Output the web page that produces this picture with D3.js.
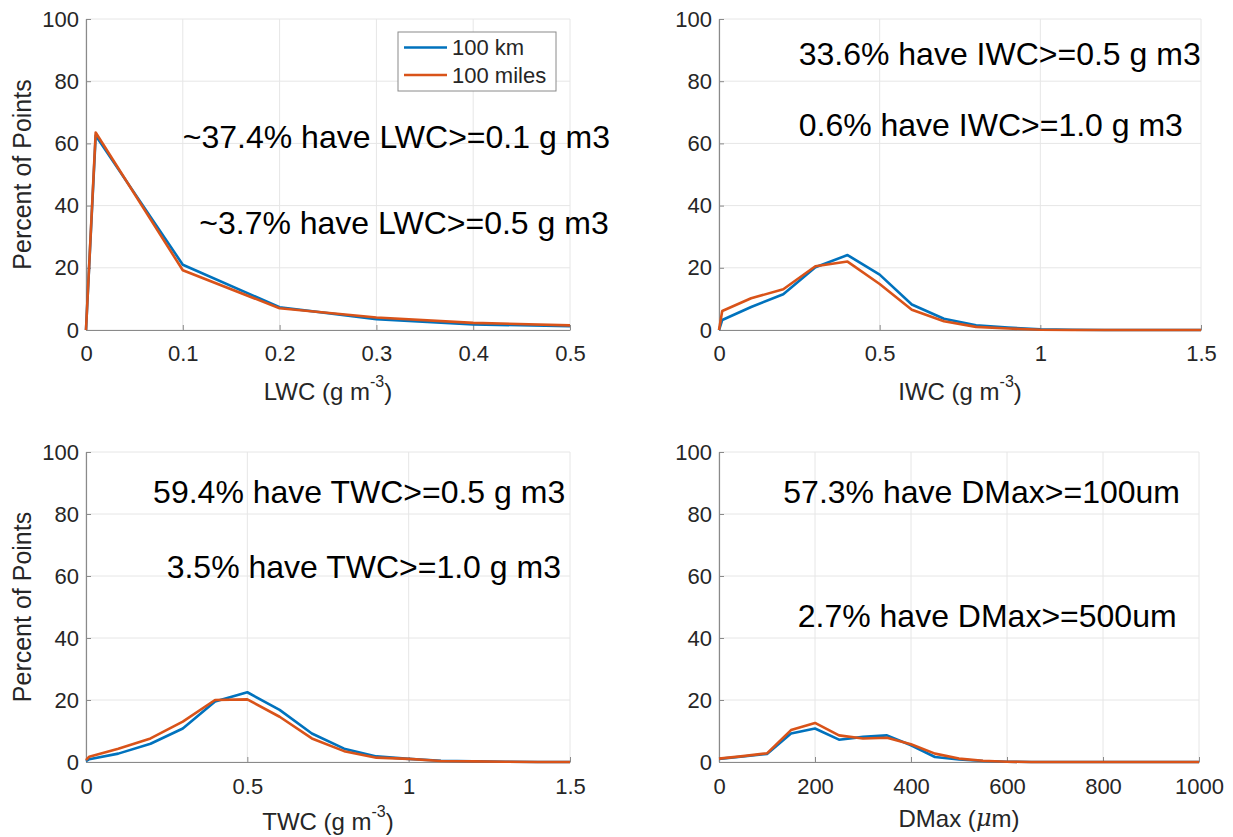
<!DOCTYPE html>
<html>
<head>
<meta charset="utf-8">
<script src="https://cdn.jsdelivr.net/npm/d3@7"></script>
<style>
  body { margin: 0; background: #fff; }
  svg { display: block; font-family: "Liberation Sans", Arial, Helvetica, sans-serif; }
</style>
</head>
<body>
<svg width="1233" height="837"></svg>
<script>
// ---- data ----
var seriesNames = ['100 km', '100 miles'];

var lwcX     = [0, 0.01, 0.1, 0.2, 0.3, 0.4, 0.5];
var lwcKm    = [0, 62.5, 21.0, 7.3, 3.5, 1.8, 1.2];
var lwcMiles = [0, 63.5, 19.2, 7.0, 4.0, 2.3, 1.5];

var iwcX     = [0, 0.01, 0.1, 0.2, 0.3, 0.4, 0.5, 0.6, 0.7, 0.8, 0.9, 1.0, 1.1, 1.2, 1.3, 1.4, 1.5];
var iwcKm    = [0, 3.2, 7.4, 11.5, 20.2, 24.1, 17.8, 8.2, 3.6, 1.5, 0.8, 0.2, 0.1, 0, 0, 0, 0];
var iwcMiles = [0, 6.1, 10.2, 13.1, 20.5, 22.0, 14.8, 6.5, 2.8, 1.0, 0.5, 0.1, 0, 0, 0, 0, 0];

var twcX     = [0, 0.01, 0.1, 0.2, 0.3, 0.4, 0.5, 0.6, 0.7, 0.8, 0.9, 1.0, 1.1, 1.2, 1.3, 1.4, 1.5];
var twcKm    = [0.3, 0.9, 2.7, 5.9, 10.8, 19.5, 22.5, 16.8, 9.2, 4.3, 1.8, 1.0, 0.4, 0.2, 0.1, 0, 0];
var twcMiles = [0.6, 1.7, 4.3, 7.6, 13.0, 20.0, 20.2, 14.6, 7.6, 3.5, 1.4, 1.0, 0.3, 0.2, 0.1, 0, 0];

var dmaxX     = [0, 50, 100, 150, 200, 250, 300, 350, 400, 450, 500, 550, 600, 650, 700, 800, 900, 1000];
var dmaxKm    = [1.0, 1.8, 2.6, 9.2, 10.8, 7.2, 8.1, 8.6, 5.4, 1.6, 0.8, 0.3, 0.1, 0, 0, 0, 0, 0];
var dmaxMiles = [1.1, 1.9, 2.8, 10.3, 12.6, 8.6, 7.6, 7.8, 5.7, 2.7, 1.1, 0.4, 0.1, 0, 0, 0, 0, 0];

var yTicks = [0, 20, 40, 60, 80, 100];

var colors = ['#0072BD', '#D95319'];
var svg = d3.select('svg');

var panels = [
  {x: lwcX, km: lwcKm, mi: lwcMiles, domain: [0, 0.5], ticks: [0, 0.1, 0.2, 0.3, 0.4, 0.5],
   box: [86, 570, 19, 330], ylabel: true, legend: true,
   xlabel: ['LWC (g m', '-3', ')'], xlabelY: 391, tickY: 353,
   notes: [['~37.4% have LWC>=0.1 g m3', 0.1, 62], ['~3.7% have LWC>=0.5 g m3', 0.117, 34.5]]},
  {x: iwcX, km: iwcKm, mi: iwcMiles, domain: [0, 1.5], ticks: [0, 0.5, 1, 1.5],
   box: [719, 1201, 19, 330], ylabel: false,
   xlabel: ['IWC (g m', '-3', ')'], xlabelY: 391, tickY: 353,
   notes: [['33.6% have IWC>=0.5 g m3', 0.248, 88.8], ['0.6% have IWC>=1.0 g m3', 0.248, 66]]},
  {x: twcX, km: twcKm, mi: twcMiles, domain: [0, 1.5], ticks: [0, 0.5, 1, 1.5],
   box: [86, 570, 452, 762], ylabel: true,
   xlabel: ['TWC (g m', '-3', ')'], xlabelY: 821, tickY: 786,
   notes: [['59.4% have TWC>=0.5 g m3', 0.208, 87], ['3.5% have TWC>=1.0 g m3', 0.25, 63]]},
  {x: dmaxX, km: dmaxKm, mi: dmaxMiles, domain: [0, 1000], ticks: [0, 200, 400, 600, 800, 1000],
   box: [719, 1199, 452, 762], ylabel: false,
   xlabel: null, xlabelY: 818, tickY: 786,
   notes: [['57.3% have DMax>=100um', 134, 87], ['2.7% have DMax>=500um', 164, 47]]}
];

panels.forEach(function(p) {
  var x = d3.scaleLinear().domain(p.domain).range([p.box[0], p.box[1]]);
  var y = d3.scaleLinear().domain([0, 100]).range([p.box[3], p.box[2]]);
  var g = svg.append('g');

  // grid
  g.selectAll('line.gx').data(p.ticks).enter().append('line')
    .attr('x1', function(d) { return x(d); }).attr('x2', function(d) { return x(d); })
    .attr('y1', y(0)).attr('y2', y(100))
    .attr('stroke', '#e6e6e6').attr('stroke-width', 1);
  g.selectAll('line.gy').data(yTicks).enter().append('line')
    .attr('y1', function(d) { return y(d); }).attr('y2', function(d) { return y(d); })
    .attr('x1', x(p.domain[0])).attr('x2', x(p.domain[1]))
    .attr('stroke', '#e6e6e6').attr('stroke-width', 1);

  // axes (MATLAB style: inward ticks, grey line)
  var xa = g.append('g').attr('transform', 'translate(0,' + y(0) + ')')
    .call(d3.axisBottom(x).tickValues(p.ticks).tickFormat(function(d) { return d; })
      .tickSizeInner(-5).tickSizeOuter(0).tickPadding(14));
  var ya = g.append('g').attr('transform', 'translate(' + x(p.domain[0]) + ',0)')
    .call(d3.axisLeft(y).tickValues(yTicks).tickSizeInner(-5).tickSizeOuter(0).tickPadding(7));
  [xa, ya].forEach(function(a) {
    a.select('.domain').attr('stroke', '#8a8a8a').attr('stroke-width', 1.2);
    a.selectAll('.tick line').attr('stroke', '#8a8a8a');
    a.selectAll('.tick text').attr('font-size', 22).attr('fill', '#262626')
      .attr('font-family', '"Liberation Sans", Arial, sans-serif');
  });
  xa.selectAll('.tick text').attr('dy', null).attr('y', p.tickY - y(0)).attr('dominant-baseline', 'central');

  // lines
  var line = d3.line().x(function(d) { return x(d[0]); }).y(function(d) { return y(d[1]); });
  [p.km, p.mi].forEach(function(vals, i) {
    g.append('path')
      .datum(p.x.map(function(v, j) { return [v, vals[j]]; }))
      .attr('d', line)
      .attr('fill', 'none')
      .attr('stroke', colors[i])
      .attr('stroke-width', 2.6)
      .attr('stroke-linejoin', 'round');
  });

  // annotations
  g.selectAll('text.note').data(p.notes).enter().append('text')
    .attr('x', function(d) { return x(d[1]); })
    .attr('y', function(d) { return y(d[2]); })
    .attr('dominant-baseline', 'central')
    .attr('font-size', 32)
    .attr('fill', '#000')
    .text(function(d) { return d[0]; });

  // x label
  var cx = (p.box[0] + p.box[1]) / 2;
  var xl = g.append('text').attr('x', cx).attr('y', p.xlabelY)
    .attr('text-anchor', 'middle').attr('dominant-baseline', 'central')
    .attr('font-size', 24).attr('fill', '#262626');
  if (p.xlabel) {
    xl.append('tspan').text(p.xlabel[0]);
    xl.append('tspan').attr('font-size', 16).attr('dy', -10).text(p.xlabel[1]);
    xl.append('tspan').attr('dy', 10).text(p.xlabel[2]);
  } else {
    xl.append('tspan').text('DMax (');
    xl.append('tspan').attr('font-style', 'italic').attr('font-family', '"DejaVu Serif", serif').text('\u03bc');
    xl.append('tspan').text('m)');
  }

  // y label
  if (p.ylabel) {
    g.append('text')
      .attr('transform', 'translate(22,' + ((p.box[2] + p.box[3]) / 2) + ') rotate(-90)')
      .attr('text-anchor', 'middle').attr('dominant-baseline', 'central')
      .attr('font-size', 25).attr('fill', '#262626')
      .text('Percent of Points');
  }

  // legend
  if (p.legend) {
    var lg = g.append('g');
    lg.append('rect').attr('x', 398).attr('y', 32).attr('width', 158).attr('height', 59)
      .attr('fill', '#fff').attr('stroke', '#8a8a8a').attr('stroke-width', 1);
    seriesNames.forEach(function(name, i) {
      var ly = 47.5 + i * 27.5;
      lg.append('line').attr('x1', 404).attr('x2', 447).attr('y1', ly).attr('y2', ly)
        .attr('stroke', colors[i]).attr('stroke-width', 2.6);
      lg.append('text').attr('x', 452).attr('y', ly).attr('dominant-baseline', 'central')
        .attr('font-size', 22).attr('fill', '#262626').text(name);
    });
  }
});
</script>
</body>
</html>
